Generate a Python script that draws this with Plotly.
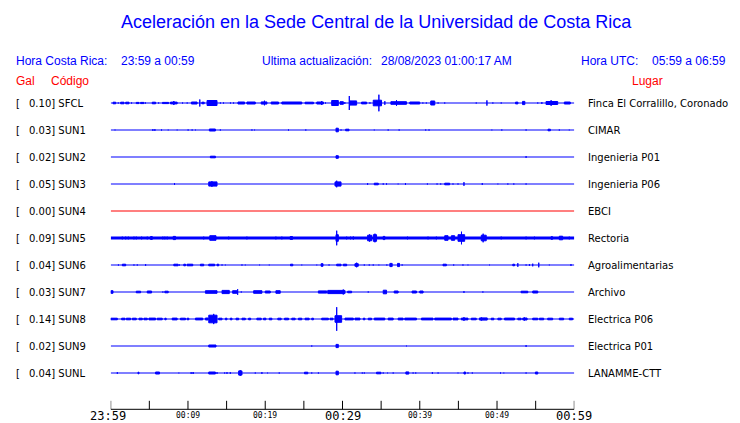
import plotly.graph_objects as go

# ---------------- data ----------------
TITLE = "Aceleración en la Sede Central de la Universidad de Costa Rica"
HORA_CR = "23:59 a 00:59"
ACTUALIZACION = "28/08/2023 01:00:17 AM"
HORA_UTC = "05:59 a 06:59"

STATIONS = ["SFCL", "SUN1", "SUN2", "SUN3", "SUN4", "SUN5", "SUN6", "SUN7", "SUN8", "SUN9", "SUNL"]
GAL = [0.10, 0.03, 0.02, 0.05, 0.00, 0.09, 0.04, 0.03, 0.14, 0.02, 0.04]
PLACES = ["Finca El Corralillo, Coronado", "CIMAR", "Ingenieria P01", "Ingenieria P06", "EBCI",
          "Rectoria", "Agroalimentarias", "Archivo", "Electrica P06", "Electrica P01", "LANAMME-CTT"]

# time axis: minutes after 23:59
TICK_MINUTES = [0, 5, 10, 15, 20, 25, 30, 35, 40, 45, 50, 55, 60]
MAJOR_LABELS = {0: "23:59", 30: "00:29", 60: "00:59"}
MINOR_LABELS = {10: "00:09", 20: "00:19", 40: "00:39", 50: "00:49"}

# bursts of shaking per station: [start minute, end minute, half amplitude]
SFCL_BURSTS = [[0.3, 0.65, 1.5], [0.98, 0.98, 1.2], [1.29, 1.72, 1.5], [1.94, 2.37, 1.5], [2.7, 2.7, 1.2],
               [3.31, 3.66, 1.3], [3.87, 4.3, 1.3], [4.5, 4.5, 1.2], [5.38, 5.81, 1.5], [6.2, 6.2, 1.2],
               [6.7, 7.5, 1.3], [7.74, 8.6, 1.6], [8.17, 8.17, 2.7], [9.3, 9.3, 1.2], [9.9, 9.9, 1.2],
               [10.45, 11.18, 1.7], [11.53, 11.53, 4.2], [11.8, 12.1, 1.5], [12.47, 13.76, 3.2],
               [14.2, 14.2, 1.2], [14.6, 14.6, 1.2], [15.5, 15.5, 1.2], [15.9, 15.9, 1.2],
               [16.47, 17.33, 1.7], [17.63, 18.71, 1.7], [19.48, 20.22, 1.8], [19.9, 19.9, 3.0],
               [20.77, 21.72, 1.7], [22.15, 24.73, 1.7], [25.16, 26.24, 1.5], [26.67, 27.53, 1.7],
               [27.31, 27.31, 2.7], [27.8, 27.8, 1.2], [28.6, 29.46, 3.2], [29.68, 30.11, 2.0],
               [30.3, 30.3, 1.5], [30.88, 30.88, 7.7], [30.97, 31.83, 2.8], [32.47, 33.12, 1.6],
               [33.55, 33.55, 1.3], [33.98, 35.05, 3.5], [34.71, 34.71, 9.0], [35.48, 35.48, 2.5],
               [36.26, 38.28, 2.0], [36.99, 36.99, 3.5], [38.71, 40.0, 1.7], [40.4, 40.4, 1.2],
               [40.85, 40.85, 1.2], [41.42, 41.94, 2.7], [42.37, 42.37, 1.2], [43.23, 43.23, 1.2],
               [47.31, 47.31, 1.2], [48.69, 48.69, 3.3], [49.46, 49.46, 1.2], [50.54, 50.54, 1.2],
               [52.4, 52.7, 1.6], [53.3, 53.6, 2.3], [55.27, 55.27, 1.2], [55.8, 55.8, 1.5],
               [56.34, 57.85, 2.2], [57.0, 57.0, 3.5], [58.71, 59.48, 1.7]]
SUN1_BURSTS = [[0.56, 0.56, 1.0], [5.46, 5.46, 1.5], [5.72, 5.72, 1.5], [6.58, 6.58, 1.2], [7.44, 7.44, 1.0],
               [8.6, 8.6, 1.0], [10.02, 10.02, 1.2], [10.54, 10.54, 1.2], [10.97, 10.97, 1.0],
               [12.77, 13.55, 1.7], [14.19, 14.19, 1.2], [18.28, 18.28, 1.2], [18.62, 18.62, 1.0],
               [23.01, 23.01, 1.2], [25.25, 25.25, 1.2], [29.16, 29.46, 2.5], [29.81, 29.81, 1.2],
               [30.41, 30.84, 1.5], [34.11, 34.11, 1.0], [35.91, 35.91, 1.2], [37.33, 37.33, 1.2],
               [40.77, 40.77, 1.2], [41.2, 41.2, 1.2], [49.33, 49.33, 1.0], [50.62, 50.62, 1.2],
               [53.76, 53.76, 1.2], [56.6, 56.9, 1.5], [58.06, 58.06, 1.2], [59.35, 59.35, 1.0]]
SUN2_BURSTS = [[12.9, 13.55, 1.5], [29.16, 29.46, 2.0], [53.76, 53.76, 1.5]]
SUN3_BURSTS = [[8.26, 8.26, 1.5], [12.69, 13.76, 2.8], [13.1, 13.1, 3.5], [29.03, 29.81, 2.8],
               [29.25, 29.25, 4.0], [33.25, 33.25, 1.5], [34.11, 34.63, 1.5], [35.27, 35.27, 1.3],
               [35.7, 35.7, 1.3], [37.2, 37.2, 1.0], [38.15, 38.15, 1.5], [40.99, 40.99, 1.2],
               [42.24, 42.24, 1.2], [42.71, 42.71, 1.2], [43.23, 43.87, 1.5], [44.3, 44.3, 1.2],
               [44.95, 44.95, 1.2], [45.72, 45.72, 2.5], [48.09, 48.09, 1.5], [50.11, 50.11, 1.0],
               [51.4, 51.4, 1.2], [52.17, 52.17, 1.2], [53.76, 53.76, 1.2]]
SUN4_BURSTS = []
SUN5_BURSTS = [[1.5, 1.5, 2.0], [1.94, 1.94, 2.0], [2.28, 2.28, 2.0], [3.01, 3.01, 2.0], [3.31, 3.31, 2.0],
               [4.0, 4.0, 2.0], [4.73, 4.73, 2.0], [5.16, 5.38, 2.2], [6.75, 6.75, 2.0], [7.01, 7.01, 2.0],
               [7.31, 7.31, 2.0], [8.09, 8.39, 2.3], [12.04, 12.04, 2.0], [12.82, 13.63, 3.0],
               [15.27, 15.27, 2.0], [17.63, 17.63, 2.0], [21.38, 21.38, 2.0], [22.15, 22.15, 2.0],
               [23.23, 23.53, 2.2], [29.16, 29.46, 4.0], [29.25, 29.25, 8.0], [30.54, 30.54, 2.0],
               [31.05, 31.05, 2.0], [31.4, 31.4, 2.2], [33.25, 33.76, 3.5], [33.5, 33.5, 4.3],
               [33.98, 34.41, 4.0], [34.2, 34.2, 5.0], [35.27, 35.48, 2.3], [38.41, 38.41, 2.0],
               [41.07, 41.07, 2.0], [42.15, 42.15, 2.0], [43.23, 43.66, 3.0], [44.09, 44.52, 3.0],
               [44.95, 45.81, 4.0], [45.4, 45.4, 7.0], [47.96, 48.6, 3.5], [48.2, 48.2, 5.0],
               [50.54, 50.54, 2.0], [53.76, 53.76, 2.0], [54.84, 54.84, 2.0], [56.99, 57.2, 2.0],
               [58.06, 58.49, 2.5], [59.35, 59.35, 2.0]]
SUN6_BURSTS = [[1.0, 1.0, 1.2], [1.51, 1.94, 1.5], [3.01, 3.01, 1.2], [3.44, 3.44, 1.2], [4.52, 4.52, 1.5],
               [8.17, 8.73, 1.5], [8.9, 8.9, 1.2], [9.46, 9.68, 1.5], [9.89, 10.62, 1.5], [11.61, 12.04, 1.5],
               [12.69, 13.46, 1.5], [13.76, 13.98, 1.5], [14.41, 14.41, 1.2], [14.84, 14.84, 1.0],
               [16.99, 16.99, 1.2], [17.42, 17.42, 1.0], [19.27, 19.27, 1.0], [20.52, 20.52, 1.0],
               [23.27, 23.57, 1.5], [24.73, 24.73, 1.0], [26.67, 26.67, 1.0], [27.23, 27.48, 2.0],
               [28.26, 28.26, 1.2], [29.25, 29.81, 1.5], [30.11, 30.54, 1.5], [31.61, 32.04, 2.0],
               [31.83, 31.83, 3.0], [32.82, 32.82, 1.2], [33.46, 33.46, 1.2], [33.98, 33.98, 1.2],
               [34.71, 34.71, 1.0], [35.74, 35.74, 1.2], [36.13, 36.43, 2.3], [37.12, 37.38, 2.3],
               [37.72, 37.72, 1.2], [43.01, 43.44, 1.5], [44.39, 44.39, 1.2], [45.59, 45.59, 1.2],
               [46.24, 46.24, 1.0], [49.03, 49.03, 1.0], [52.04, 52.26, 1.5], [52.69, 52.69, 2.5],
               [53.76, 53.76, 1.2], [54.19, 54.19, 1.5], [54.62, 54.62, 2.0], [55.4, 55.4, 3.0],
               [56.77, 56.77, 1.0], [59.57, 59.57, 1.5]]
SUN7_BURSTS = [[0.0, 0.3, 2.0], [3.31, 3.87, 1.5], [4.73, 5.29, 1.7], [6.75, 6.75, 1.2], [7.01, 7.44, 1.5],
               [12.26, 13.76, 2.0], [14.41, 15.35, 2.3], [15.78, 16.34, 2.0], [16.43, 16.43, 3.5],
               [16.9, 16.9, 1.2], [18.5, 19.57, 2.0], [20.0, 20.65, 1.7], [21.38, 21.94, 2.0],
               [26.88, 27.96, 1.8], [28.09, 30.32, 2.3], [30.1, 30.1, 3.2], [30.67, 31.18, 1.5],
               [33.33, 33.33, 1.2], [35.27, 35.7, 2.5], [36.69, 37.2, 1.7], [39.01, 39.57, 1.7],
               [40.0, 40.43, 1.7], [45.72, 45.72, 1.5], [48.17, 48.17, 1.2], [53.12, 53.98, 1.5],
               [54.62, 55.27, 1.7]]
SUN8_BURSTS = [[0.0, 0.86, 1.5], [1.42, 1.85, 1.5], [2.02, 2.58, 1.5], [2.8, 3.31, 1.5], [3.66, 4.09, 1.5],
               [4.3, 4.73, 1.5], [4.95, 5.81, 1.6], [6.02, 6.67, 1.5], [7.01, 7.18, 1.5], [7.96, 8.6, 1.6],
               [9.03, 9.68, 1.5], [9.89, 10.11, 1.5], [10.97, 11.91, 1.6], [12.26, 12.6, 1.7],
               [12.69, 13.76, 4.5], [13.33, 13.33, 5.8], [13.98, 14.41, 1.5], [14.84, 15.05, 1.5],
               [15.48, 15.7, 1.5], [16.22, 16.56, 1.5], [16.99, 17.42, 1.5], [17.85, 18.11, 1.5],
               [18.92, 19.48, 1.5], [19.78, 20.09, 1.5], [20.52, 20.86, 1.5], [21.63, 22.06, 1.5],
               [22.5, 23.01, 1.5], [23.44, 23.87, 1.5], [24.3, 24.73, 1.5], [25.16, 25.68, 1.5],
               [26.02, 26.24, 1.5], [27.31, 28.17, 1.5], [28.39, 28.77, 1.5], [29.03, 29.89, 4.0],
               [29.25, 29.25, 12.5], [30.32, 31.4, 1.6], [31.61, 32.26, 1.6], [32.69, 32.9, 1.5],
               [33.33, 33.76, 1.5], [34.11, 35.48, 1.6], [35.91, 36.56, 1.6], [37.2, 37.85, 1.6],
               [38.06, 39.57, 1.6], [40.22, 41.72, 1.6], [41.94, 44.09, 1.6], [44.3, 44.95, 1.6],
               [45.38, 46.24, 1.6], [45.72, 45.72, 2.5], [46.67, 47.31, 1.5], [47.74, 48.73, 1.8],
               [48.0, 48.0, 2.2], [49.25, 49.59, 1.5], [50.11, 50.54, 1.5], [50.97, 52.26, 1.6],
               [52.69, 53.12, 1.5], [53.33, 53.89, 1.7], [53.55, 53.55, 2.2], [54.62, 55.27, 1.5],
               [55.48, 56.04, 1.5], [56.56, 57.2, 1.5], [58.06, 58.62, 1.5], [59.35, 59.78, 1.5]]
SUN9_BURSTS = [[12.69, 13.63, 1.7], [26.02, 26.02, 1.2], [29.16, 29.46, 2.3], [38.28, 38.28, 1.0],
               [53.76, 53.76, 1.5]]
SUNL_BURSTS = [[0.86, 0.86, 1.5], [3.53, 3.66, 1.5], [5.81, 6.32, 1.7], [8.82, 8.82, 1.0], [10.41, 10.41, 1.5],
               [10.67, 10.67, 1.7], [12.69, 13.55, 1.7], [13.76, 13.76, 1.5], [14.75, 14.75, 1.2],
               [15.05, 15.05, 1.5], [15.48, 15.48, 1.5], [16.56, 16.99, 2.8], [16.77, 16.77, 3.5],
               [18.71, 18.71, 1.2], [19.57, 19.57, 1.5], [20.3, 20.3, 1.0], [21.81, 21.81, 1.2],
               [25.08, 25.51, 1.5], [26.02, 26.02, 1.2], [26.88, 26.88, 1.2], [29.16, 29.46, 2.5],
               [31.61, 31.61, 1.2], [32.56, 32.56, 1.2], [32.82, 32.82, 1.2], [34.41, 34.97, 1.5],
               [35.27, 35.27, 1.2], [35.83, 35.83, 1.0], [36.56, 36.56, 1.2], [38.2, 38.58, 1.8],
               [39.14, 39.14, 1.2], [39.48, 39.48, 1.2], [41.63, 41.63, 1.5], [42.37, 42.37, 1.2],
               [44.95, 44.95, 1.0], [45.72, 45.93, 1.7], [46.24, 46.24, 1.2], [46.8, 46.8, 1.2],
               [50.45, 50.45, 1.2], [50.88, 50.88, 1.0], [53.76, 53.76, 1.2], [54.97, 55.27, 1.7]]

BURSTS = [SFCL_BURSTS, SUN1_BURSTS, SUN2_BURSTS, SUN3_BURSTS, SUN4_BURSTS, SUN5_BURSTS,
          SUN6_BURSTS, SUN7_BURSTS, SUN8_BURSTS, SUN9_BURSTS, SUNL_BURSTS]

# ---------------- style ----------------
W, H = 740, 423
X0_PX, X1_PX = 110.7, 574.3      # plot x extent in pixels (minute 0 .. 60)
Y0_PX, SP_PX = 103.0, 27.0       # first baseline, spacing in pixels
AXIS_PX = 409.3
TICK_LEN_PX = 8.5
BLUE, RED = "#0000ff", "#ff0000"
HDR_FONT = "Liberation Sans, Arial, sans-serif"
LBL_FONT = "DejaVu Sans, sans-serif"
MONO_FONT = "DejaVu Sans Mono, monospace"

LINE_COLORS = [BLUE] * len(STATIONS)
LINE_COLORS[4] = RED
BASE_WIDTHS = [1.2] * len(STATIONS)
BASE_WIDTHS[5] = 3


def px(x):
    return x / W


def py(y):
    return 1 - y / H


def ydata(ypx):
    return (ypx - Y0_PX) / SP_PX


fig = go.Figure()

for i, (name, bursts) in enumerate(zip(STATIONS, BURSTS)):
    fig.add_trace(go.Scatter(x=[0, 60], y=[i, i], mode="lines",
                             line=dict(color=LINE_COLORS[i], width=BASE_WIDTHS[i]),
                             hoverinfo="skip", showlegend=False))
    if bursts:
        xs, ys = [], []
        for s, e, a in bursts:
            h = max(a - 0.7, 0.2) / SP_PX
            xs += [s, e, e, s, s, None]
            ys += [i - h, i - h, i + h, i + h, i - h, None]
        fig.add_trace(go.Scatter(x=xs, y=ys, mode="lines", fill="toself", fillcolor=LINE_COLORS[i],
                                 line=dict(color=LINE_COLORS[i], width=1),
                                 hoverinfo="skip", showlegend=False))

# time axis: line and upward ticks
ax_y = ydata(AXIS_PX)
tick_top = ydata(AXIS_PX - TICK_LEN_PX)
fig.add_trace(go.Scatter(x=[0, 60], y=[ax_y, ax_y], mode="lines",
                         line=dict(color="black", width=1), hoverinfo="skip", showlegend=False))
tx, ty = [], []
for m in TICK_MINUTES:
    tx += [m, m, None]
    ty += [ax_y, tick_top, None]
fig.add_trace(go.Scatter(x=tx, y=ty, mode="lines", line=dict(color="black", width=1),
                         hoverinfo="skip", showlegend=False))

ann = []


def text(x, y, s, size, color, font, xanchor="left", xref="paper", yref="paper", xshift=0):
    ann.append(dict(x=x, y=y, xref=xref, yref=yref, text=s, showarrow=False, xanchor=xanchor,
                    yanchor="middle", borderpad=0, xshift=xshift,
                    font=dict(size=size, color=color, family=font)))


text(px(376.5), py(22), TITLE, 18, BLUE, HDR_FONT, xanchor="center")
text(px(15), py(60.7), "Hora Costa Rica:", 12, BLUE, HDR_FONT)
text(px(120), py(60.7), HORA_CR, 12, BLUE, HDR_FONT)
text(px(260.7), py(60.7), "Ultima actualización:", 12, BLUE, HDR_FONT)
text(px(380), py(60.7), ACTUALIZACION, 12, BLUE, HDR_FONT)
text(px(580), py(60.7), "Hora UTC:", 12, BLUE, HDR_FONT)
text(px(651), py(60.7), HORA_UTC, 12, BLUE, HDR_FONT)
text(px(15), py(80.7), "Gal", 12, RED, HDR_FONT)
text(px(50), py(80.7), "Código", 12, RED, HDR_FONT)
text(px(631), py(80.7), "Lugar", 12, RED, HDR_FONT)

for i, (name, g, place) in enumerate(zip(STATIONS, GAL, PLACES)):
    text(px(15), i, "[", 10, "black", LBL_FONT, yref="y")
    text(px(27.5), i, f"{g:.2f}] {name}", 10, "black", LBL_FONT, yref="y")
    text(px(587), i, place, 10, "black", LBL_FONT, yref="y")

for m, lab in MAJOR_LABELS.items():
    text(m, py(416), lab, 12, "black", MONO_FONT, xanchor="center", xref="x",
         xshift=-3 if m == 0 else 0)
for m, lab in MINOR_LABELS.items():
    text(m, py(415.5), lab, 8, "black", MONO_FONT, xanchor="center", xref="x")

y_bottom = (H - Y0_PX) / SP_PX
y_top = -Y0_PX / SP_PX

fig.update_layout(
    width=W, height=H, margin=dict(l=0, r=0, t=0, b=0),
    paper_bgcolor="white", plot_bgcolor="white",
    showlegend=False, annotations=ann,
    xaxis=dict(domain=[px(X0_PX), px(X1_PX)], range=[0, 60], visible=False, fixedrange=True),
    yaxis=dict(domain=[0, 1], range=[y_bottom, y_top], visible=False, fixedrange=True),
)

fig.write_html("out.html", config={"displayModeBar": False},
               post_script="document.body.style.margin='0';document.body.style.overflow='hidden';")
